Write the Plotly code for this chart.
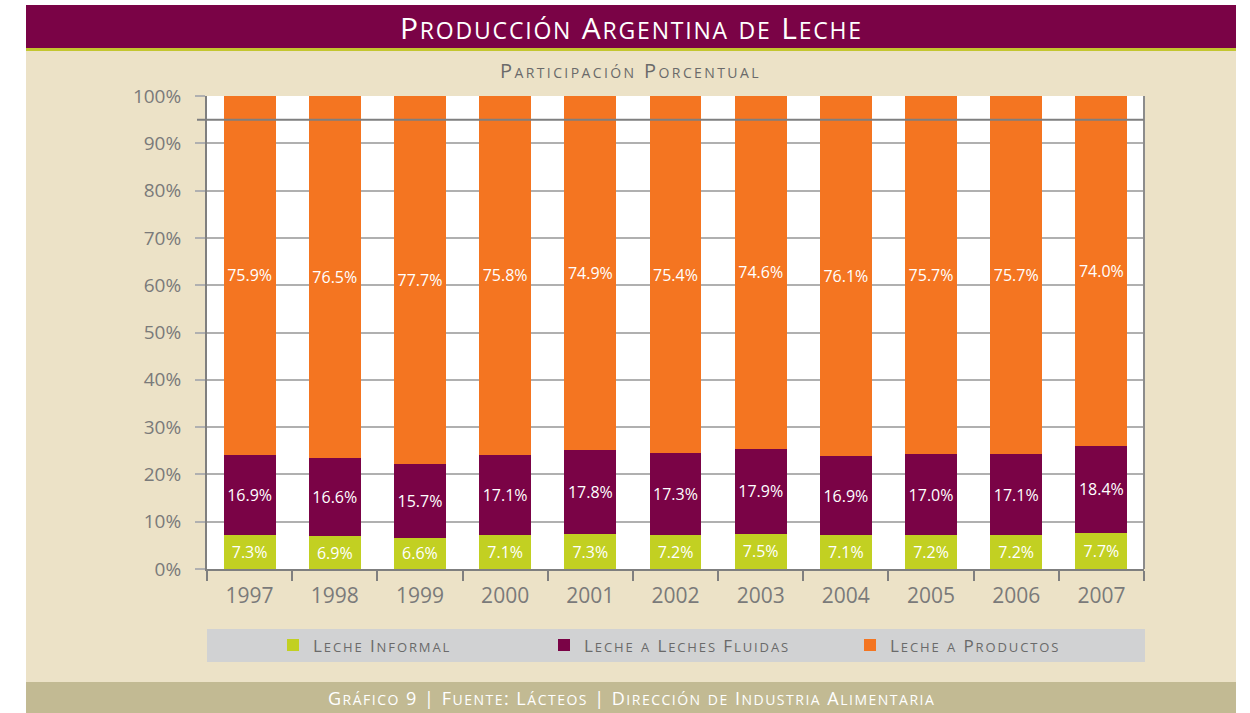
import re
import plotly.graph_objects as go

# ---------------- data ----------------
years = ["1997", "1998", "1999", "2000", "2001", "2002", "2003", "2004", "2005", "2006", "2007"]
leche_informal = [7.3, 6.9, 6.6, 7.1, 7.3, 7.2, 7.5, 7.1, 7.2, 7.2, 7.7]
leche_fluidas = [16.9, 16.6, 15.7, 17.1, 17.8, 17.3, 17.9, 16.9, 17.0, 17.1, 18.4]
leche_productos = [75.9, 76.5, 77.7, 75.8, 74.9, 75.4, 74.6, 76.1, 75.7, 75.7, 74.0]
series_names = ["Leche Informal", "Leche a Leches Fluidas", "Leche a Productos"]
y_ticks = [0, 10, 20, 30, 40, 50, 60, 70, 80, 90, 100]

# ---------------- styles ----------------
C_GREEN = "#C2D022"
C_MAGENTA = "#7A0346"
C_ORANGE = "#F47521"
C_BEIGE = "#ECE2C7"
C_FOOT = "#C2BA93"
C_LEG = "#D1D2D3"
C_GREY = "#7A7A7A"
FONT = "Open Sans"

W, H = 1250, 713
PL, PR, PT, PB = 207, 1144, 96, 569


def px(x):
    return (x - PL) / (PR - PL)


def py(y):
    return (PB - y) / (PB - PT)


def smallcaps(text, big, small, spacing):
    out = []
    for tok in re.findall(r"[a-záéíóúñ]+|[^a-záéíóúñ]+", text):
        if re.match(r"[a-záéíóúñ]", tok):
            out.append("<span style='font-size:%dpx;letter-spacing:%.1fpx'>%s</span>"
                       % (small, spacing, tok.upper()))
        else:
            out.append("<span style='font-size:%dpx;letter-spacing:%.1fpx'>%s</span>"
                       % (big, spacing, tok))
    return "".join(out)


fig = go.Figure()
series = [leche_informal, leche_fluidas, leche_productos]
colors = [C_GREEN, C_MAGENTA, C_ORANGE]
legends = ["legend", "legend2", "legend3"]
for name, vals, col, lg in zip(series_names, series, colors, legends):
    fig.add_trace(go.Bar(
        x=years, y=vals, name=smallcaps(name, 17, 13, 1.9),
        marker=dict(color=col, line=dict(width=0)),
        text=["%.1f%%" % v for v in vals],
        textposition="inside", insidetextanchor="middle", textangle=0,
        constraintext="none",
        textfont=dict(color="white", size=16, family=FONT),
        legend=lg, hoverinfo="skip",
    ))

shapes = [
    # beige panel
    dict(type="rect", xref="paper", yref="paper", x0=px(26), x1=px(1236), y0=py(682), y1=py(51),
         fillcolor=C_BEIGE, line=dict(width=0), layer="below"),
    # white plot area
    dict(type="rect", xref="paper", yref="paper", x0=0, x1=1, y0=0, y1=1,
         fillcolor="white", line=dict(width=0), layer="below"),
    # title band
    dict(type="rect", xref="paper", yref="paper", x0=px(26), x1=px(1236), y0=py(48), y1=py(5),
         fillcolor=C_MAGENTA, line=dict(width=0), layer="below"),
    dict(type="rect", xref="paper", yref="paper", x0=px(26), x1=px(1236), y0=py(51), y1=py(48),
         fillcolor="#C3C62F", line=dict(width=0), layer="below"),
    # footer band
    dict(type="rect", xref="paper", yref="paper", x0=px(26), x1=px(1236), y0=py(713), y1=py(682),
         fillcolor=C_FOOT, line=dict(width=0), layer="below"),
    # legend box
    dict(type="rect", xref="paper", yref="paper", x0=px(207), x1=px(1145), y0=py(662), y1=py(629),
         fillcolor=C_LEG, line=dict(width=0), layer="below"),
    # right border of plot
    dict(type="line", xref="paper", yref="paper", x0=1, x1=1, y0=0, y1=1,
         line=dict(color="#8C8C8C", width=2), layer="above"),
    # dark line near top
    dict(type="line", xref="paper", yref="y", x0=px(197), x1=1, y0=95, y1=95,
         line=dict(color="#7F7F7F", width=2), layer="above"),
]

annotations = [
    dict(text=smallcaps("Producción Argentina de Leche", 30, 23, 1.8), x=px(631), y=py(28),
         xref="paper", yref="paper", showarrow=False, xanchor="center", yanchor="middle",
         font=dict(family=FONT, size=30, color="white")),
    dict(text=smallcaps("Participación Porcentual", 20, 14, 2.4), x=px(630), y=py(70),
         xref="paper", yref="paper", showarrow=False, xanchor="center", yanchor="middle",
         font=dict(family=FONT, size=20, color="#6A6A6A")),
    dict(text=smallcaps("Gráfico 9 | Fuente: Lácteos | Dirección de Industria Alimentaria", 18, 14, 1.5),
         x=px(631), y=py(698), xref="paper", yref="paper", showarrow=False,
         xanchor="center", yanchor="middle",
         font=dict(family=FONT, size=18, color="white")),
]

leg_common = dict(orientation="h", bgcolor="rgba(0,0,0,0)", borderwidth=0,
                  xanchor="left", yanchor="middle", itemclick=False, itemdoubleclick=False,
                  font=dict(family=FONT, size=17, color="#6A6A6A"))

fig.update_layout(
    width=W, height=H,
    margin=dict(l=PL, r=W - PR, t=PT, b=H - PB, pad=0),
    paper_bgcolor="white", plot_bgcolor="white",
    barmode="stack", barnorm="percent", bargap=0.39,
    font=dict(family=FONT, color=C_GREY),
    shapes=shapes, annotations=annotations,
    showlegend=True,
    legend=dict(x=px(273), y=py(645.5), **leg_common),
    legend2=dict(x=px(544), y=py(645.5), **leg_common),
    legend3=dict(x=px(850), y=py(645.5), **leg_common),
    xaxis=dict(
        showline=True, linecolor="#7F7F7F", linewidth=2,
        ticks="outside", tickson="boundaries", ticklen=10, tickwidth=2, tickcolor="#7F7F7F",
        tickfont=dict(family=FONT, size=21, color=C_GREY), ticklabelstandoff=7,
        showgrid=False, zeroline=False, fixedrange=True,
    ),
    yaxis=dict(
        range=[0, 100], tickvals=y_ticks, ticktext=["%d%%" % v for v in y_ticks],
        showline=True, linecolor="#7F7F7F", linewidth=2,
        ticks="outside", ticklen=10, tickwidth=2, tickcolor="#B0B0B0",
        showgrid=True, gridcolor="#B0B0B0", gridwidth=2,
        tickfont=dict(family=FONT, size=19, color=C_GREY), ticklabelstandoff=10,
        zeroline=False, fixedrange=True,
    ),
)

fig.write_html("out.html", config={"displayModeBar": False},
               post_script="document.body.style.margin='0px';")
